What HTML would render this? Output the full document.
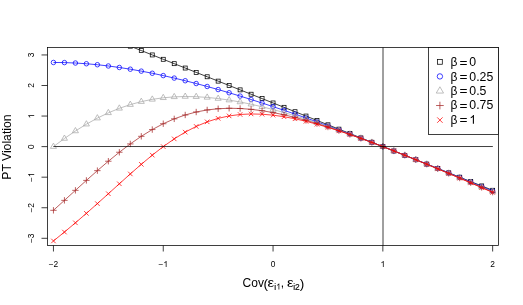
<!DOCTYPE html>
<html><head><meta charset="utf-8"><title>PT Violation</title>
<style>html,body{margin:0;padding:0;background:#fff}body{width:523px;height:305px;overflow:hidden;font-family:"Liberation Sans",sans-serif}</style>
</head><body>
<svg width="523" height="305" viewBox="0 0 523 305" style="display:block;will-change:transform;font-family:'Liberation Sans',sans-serif">
<rect width="523" height="305" fill="#fff"/>
<defs><clipPath id="c"><rect x="47.5" y="47.5" width="451.0" height="198.0"/></clipPath></defs>
<g clip-path="url(#c)">
<polyline fill="none" stroke="#000000" stroke-width="0.75" points="53.45,15.64 64.43,20.00 75.41,24.37 86.39,28.73 97.37,33.10 108.35,37.47 119.33,41.83 130.31,46.20 141.29,50.57 152.27,54.93 163.25,59.30 174.23,63.66 185.21,68.03 196.19,72.40 207.17,76.76 218.15,81.13 229.13,85.49 240.11,89.86 251.09,94.23 262.07,98.59 273.05,102.96 284.03,107.32 295.01,111.69 305.99,116.06 316.97,120.42 327.95,124.79 338.93,129.16 349.91,133.52 360.89,137.89 371.87,142.25 382.85,146.62 393.83,150.99 404.81,155.35 415.79,159.72 426.77,164.08 437.75,168.45 448.73,172.82 459.71,177.18 470.69,181.55 481.67,185.92 492.65,190.28"/>
<rect x="51.46" y="13.64" width="3.99" height="3.99" fill="none" stroke="#000000" stroke-width="0.75"/>
<rect x="62.44" y="18.01" width="3.99" height="3.99" fill="none" stroke="#000000" stroke-width="0.75"/>
<rect x="73.42" y="22.37" width="3.99" height="3.99" fill="none" stroke="#000000" stroke-width="0.75"/>
<rect x="84.40" y="26.74" width="3.99" height="3.99" fill="none" stroke="#000000" stroke-width="0.75"/>
<rect x="95.38" y="31.11" width="3.99" height="3.99" fill="none" stroke="#000000" stroke-width="0.75"/>
<rect x="106.36" y="35.47" width="3.99" height="3.99" fill="none" stroke="#000000" stroke-width="0.75"/>
<rect x="117.34" y="39.84" width="3.99" height="3.99" fill="none" stroke="#000000" stroke-width="0.75"/>
<rect x="128.32" y="44.20" width="3.99" height="3.99" fill="none" stroke="#000000" stroke-width="0.75"/>
<rect x="139.30" y="48.57" width="3.99" height="3.99" fill="none" stroke="#000000" stroke-width="0.75"/>
<rect x="150.28" y="52.94" width="3.99" height="3.99" fill="none" stroke="#000000" stroke-width="0.75"/>
<rect x="161.26" y="57.30" width="3.99" height="3.99" fill="none" stroke="#000000" stroke-width="0.75"/>
<rect x="172.24" y="61.67" width="3.99" height="3.99" fill="none" stroke="#000000" stroke-width="0.75"/>
<rect x="183.22" y="66.04" width="3.99" height="3.99" fill="none" stroke="#000000" stroke-width="0.75"/>
<rect x="194.20" y="70.40" width="3.99" height="3.99" fill="none" stroke="#000000" stroke-width="0.75"/>
<rect x="205.18" y="74.77" width="3.99" height="3.99" fill="none" stroke="#000000" stroke-width="0.75"/>
<rect x="216.16" y="79.13" width="3.99" height="3.99" fill="none" stroke="#000000" stroke-width="0.75"/>
<rect x="227.14" y="83.50" width="3.99" height="3.99" fill="none" stroke="#000000" stroke-width="0.75"/>
<rect x="238.12" y="87.87" width="3.99" height="3.99" fill="none" stroke="#000000" stroke-width="0.75"/>
<rect x="249.10" y="92.23" width="3.99" height="3.99" fill="none" stroke="#000000" stroke-width="0.75"/>
<rect x="260.08" y="96.60" width="3.99" height="3.99" fill="none" stroke="#000000" stroke-width="0.75"/>
<rect x="271.06" y="100.96" width="3.99" height="3.99" fill="none" stroke="#000000" stroke-width="0.75"/>
<rect x="282.04" y="105.33" width="3.99" height="3.99" fill="none" stroke="#000000" stroke-width="0.75"/>
<rect x="293.02" y="109.70" width="3.99" height="3.99" fill="none" stroke="#000000" stroke-width="0.75"/>
<rect x="304.00" y="114.06" width="3.99" height="3.99" fill="none" stroke="#000000" stroke-width="0.75"/>
<rect x="314.98" y="118.43" width="3.99" height="3.99" fill="none" stroke="#000000" stroke-width="0.75"/>
<rect x="325.96" y="122.80" width="3.99" height="3.99" fill="none" stroke="#000000" stroke-width="0.75"/>
<rect x="336.94" y="127.16" width="3.99" height="3.99" fill="none" stroke="#000000" stroke-width="0.75"/>
<rect x="347.92" y="131.53" width="3.99" height="3.99" fill="none" stroke="#000000" stroke-width="0.75"/>
<rect x="358.90" y="135.89" width="3.99" height="3.99" fill="none" stroke="#000000" stroke-width="0.75"/>
<rect x="369.88" y="140.26" width="3.99" height="3.99" fill="none" stroke="#000000" stroke-width="0.75"/>
<rect x="380.86" y="144.63" width="3.99" height="3.99" fill="none" stroke="#000000" stroke-width="0.75"/>
<rect x="391.84" y="148.99" width="3.99" height="3.99" fill="none" stroke="#000000" stroke-width="0.75"/>
<rect x="402.82" y="153.36" width="3.99" height="3.99" fill="none" stroke="#000000" stroke-width="0.75"/>
<rect x="413.80" y="157.72" width="3.99" height="3.99" fill="none" stroke="#000000" stroke-width="0.75"/>
<rect x="424.78" y="162.09" width="3.99" height="3.99" fill="none" stroke="#000000" stroke-width="0.75"/>
<rect x="435.76" y="166.46" width="3.99" height="3.99" fill="none" stroke="#000000" stroke-width="0.75"/>
<rect x="446.74" y="170.82" width="3.99" height="3.99" fill="none" stroke="#000000" stroke-width="0.75"/>
<rect x="457.72" y="175.19" width="3.99" height="3.99" fill="none" stroke="#000000" stroke-width="0.75"/>
<rect x="468.70" y="179.56" width="3.99" height="3.99" fill="none" stroke="#000000" stroke-width="0.75"/>
<rect x="479.68" y="183.92" width="3.99" height="3.99" fill="none" stroke="#000000" stroke-width="0.75"/>
<rect x="490.66" y="188.29" width="3.99" height="3.99" fill="none" stroke="#000000" stroke-width="0.75"/>
<polyline fill="none" stroke="#0000FF" stroke-width="0.75" points="53.45,62.48 64.43,62.59 75.41,63.02 86.39,63.74 97.37,64.73 108.35,65.98 119.33,67.48 130.31,69.20 141.29,71.13 152.27,73.26 163.25,75.58 174.23,78.08 185.21,80.73 196.19,83.54 207.17,86.48 218.15,89.56 229.13,92.76 240.11,96.08 251.09,99.50 262.07,103.01 273.05,106.63 284.03,110.32 295.01,114.10 305.99,117.95 316.97,121.87 327.95,125.86 338.93,129.90 349.91,134.01 360.89,138.16 371.87,142.37 382.85,146.62 393.83,150.91 404.81,155.25 415.79,159.62 426.77,164.03 437.75,168.47 448.73,172.94 459.71,177.44 470.69,181.97 481.67,186.52 492.65,191.10"/>
<circle cx="53.45" cy="62.48" r="2.25" fill="none" stroke="#0000FF" stroke-width="0.75"/>
<circle cx="64.43" cy="62.59" r="2.25" fill="none" stroke="#0000FF" stroke-width="0.75"/>
<circle cx="75.41" cy="63.02" r="2.25" fill="none" stroke="#0000FF" stroke-width="0.75"/>
<circle cx="86.39" cy="63.74" r="2.25" fill="none" stroke="#0000FF" stroke-width="0.75"/>
<circle cx="97.37" cy="64.73" r="2.25" fill="none" stroke="#0000FF" stroke-width="0.75"/>
<circle cx="108.35" cy="65.98" r="2.25" fill="none" stroke="#0000FF" stroke-width="0.75"/>
<circle cx="119.33" cy="67.48" r="2.25" fill="none" stroke="#0000FF" stroke-width="0.75"/>
<circle cx="130.31" cy="69.20" r="2.25" fill="none" stroke="#0000FF" stroke-width="0.75"/>
<circle cx="141.29" cy="71.13" r="2.25" fill="none" stroke="#0000FF" stroke-width="0.75"/>
<circle cx="152.27" cy="73.26" r="2.25" fill="none" stroke="#0000FF" stroke-width="0.75"/>
<circle cx="163.25" cy="75.58" r="2.25" fill="none" stroke="#0000FF" stroke-width="0.75"/>
<circle cx="174.23" cy="78.08" r="2.25" fill="none" stroke="#0000FF" stroke-width="0.75"/>
<circle cx="185.21" cy="80.73" r="2.25" fill="none" stroke="#0000FF" stroke-width="0.75"/>
<circle cx="196.19" cy="83.54" r="2.25" fill="none" stroke="#0000FF" stroke-width="0.75"/>
<circle cx="207.17" cy="86.48" r="2.25" fill="none" stroke="#0000FF" stroke-width="0.75"/>
<circle cx="218.15" cy="89.56" r="2.25" fill="none" stroke="#0000FF" stroke-width="0.75"/>
<circle cx="229.13" cy="92.76" r="2.25" fill="none" stroke="#0000FF" stroke-width="0.75"/>
<circle cx="240.11" cy="96.08" r="2.25" fill="none" stroke="#0000FF" stroke-width="0.75"/>
<circle cx="251.09" cy="99.50" r="2.25" fill="none" stroke="#0000FF" stroke-width="0.75"/>
<circle cx="262.07" cy="103.01" r="2.25" fill="none" stroke="#0000FF" stroke-width="0.75"/>
<circle cx="273.05" cy="106.63" r="2.25" fill="none" stroke="#0000FF" stroke-width="0.75"/>
<circle cx="284.03" cy="110.32" r="2.25" fill="none" stroke="#0000FF" stroke-width="0.75"/>
<circle cx="295.01" cy="114.10" r="2.25" fill="none" stroke="#0000FF" stroke-width="0.75"/>
<circle cx="305.99" cy="117.95" r="2.25" fill="none" stroke="#0000FF" stroke-width="0.75"/>
<circle cx="316.97" cy="121.87" r="2.25" fill="none" stroke="#0000FF" stroke-width="0.75"/>
<circle cx="327.95" cy="125.86" r="2.25" fill="none" stroke="#0000FF" stroke-width="0.75"/>
<circle cx="338.93" cy="129.90" r="2.25" fill="none" stroke="#0000FF" stroke-width="0.75"/>
<circle cx="349.91" cy="134.01" r="2.25" fill="none" stroke="#0000FF" stroke-width="0.75"/>
<circle cx="360.89" cy="138.16" r="2.25" fill="none" stroke="#0000FF" stroke-width="0.75"/>
<circle cx="371.87" cy="142.37" r="2.25" fill="none" stroke="#0000FF" stroke-width="0.75"/>
<circle cx="382.85" cy="146.62" r="2.25" fill="none" stroke="#0000FF" stroke-width="0.75"/>
<circle cx="393.83" cy="150.91" r="2.25" fill="none" stroke="#0000FF" stroke-width="0.75"/>
<circle cx="404.81" cy="155.25" r="2.25" fill="none" stroke="#0000FF" stroke-width="0.75"/>
<circle cx="415.79" cy="159.62" r="2.25" fill="none" stroke="#0000FF" stroke-width="0.75"/>
<circle cx="426.77" cy="164.03" r="2.25" fill="none" stroke="#0000FF" stroke-width="0.75"/>
<circle cx="437.75" cy="168.47" r="2.25" fill="none" stroke="#0000FF" stroke-width="0.75"/>
<circle cx="448.73" cy="172.94" r="2.25" fill="none" stroke="#0000FF" stroke-width="0.75"/>
<circle cx="459.71" cy="177.44" r="2.25" fill="none" stroke="#0000FF" stroke-width="0.75"/>
<circle cx="470.69" cy="181.97" r="2.25" fill="none" stroke="#0000FF" stroke-width="0.75"/>
<circle cx="481.67" cy="186.52" r="2.25" fill="none" stroke="#0000FF" stroke-width="0.75"/>
<circle cx="492.65" cy="191.10" r="2.25" fill="none" stroke="#0000FF" stroke-width="0.75"/>
<polyline fill="none" stroke="#A9A9A9" stroke-width="0.75" points="53.45,146.62 64.43,138.49 75.41,130.99 86.39,124.20 97.37,118.14 108.35,112.85 119.33,108.34 130.31,104.61 141.29,101.63 152.27,99.37 163.25,97.79 174.23,96.85 185.21,96.51 196.19,96.71 207.17,97.40 218.15,98.54 229.13,100.08 240.11,101.99 251.09,104.22 262.07,106.75 273.05,109.53 284.03,112.54 295.01,115.75 305.99,119.15 316.97,122.71 327.95,126.42 338.93,130.25 349.91,134.20 360.89,138.25 371.87,142.40 382.85,146.62 393.83,150.92 404.81,155.28 415.79,159.70 426.77,164.17 437.75,168.69 448.73,173.25 459.71,177.85 470.69,182.48 481.67,187.15 492.65,191.84"/>
<path d="M53.45 143.12L56.48 148.37L50.42 148.37Z" fill="none" stroke="#A9A9A9" stroke-width="0.75"/>
<path d="M64.43 134.99L67.46 140.24L61.40 140.24Z" fill="none" stroke="#A9A9A9" stroke-width="0.75"/>
<path d="M75.41 127.49L78.44 132.74L72.38 132.74Z" fill="none" stroke="#A9A9A9" stroke-width="0.75"/>
<path d="M86.39 120.70L89.42 125.94L83.36 125.94Z" fill="none" stroke="#A9A9A9" stroke-width="0.75"/>
<path d="M97.37 114.64L100.40 119.89L94.34 119.89Z" fill="none" stroke="#A9A9A9" stroke-width="0.75"/>
<path d="M108.35 109.35L111.38 114.60L105.32 114.60Z" fill="none" stroke="#A9A9A9" stroke-width="0.75"/>
<path d="M119.33 104.84L122.36 110.09L116.30 110.09Z" fill="none" stroke="#A9A9A9" stroke-width="0.75"/>
<path d="M130.31 101.11L133.34 106.36L127.28 106.36Z" fill="none" stroke="#A9A9A9" stroke-width="0.75"/>
<path d="M141.29 98.13L144.32 103.38L138.26 103.38Z" fill="none" stroke="#A9A9A9" stroke-width="0.75"/>
<path d="M152.27 95.87L155.30 101.12L149.24 101.12Z" fill="none" stroke="#A9A9A9" stroke-width="0.75"/>
<path d="M163.25 94.29L166.28 99.54L160.22 99.54Z" fill="none" stroke="#A9A9A9" stroke-width="0.75"/>
<path d="M174.23 93.36L177.26 98.60L171.20 98.60Z" fill="none" stroke="#A9A9A9" stroke-width="0.75"/>
<path d="M185.21 93.01L188.24 98.26L182.18 98.26Z" fill="none" stroke="#A9A9A9" stroke-width="0.75"/>
<path d="M196.19 93.21L199.22 98.46L193.16 98.46Z" fill="none" stroke="#A9A9A9" stroke-width="0.75"/>
<path d="M207.17 93.90L210.20 99.15L204.14 99.15Z" fill="none" stroke="#A9A9A9" stroke-width="0.75"/>
<path d="M218.15 95.04L221.18 100.29L215.12 100.29Z" fill="none" stroke="#A9A9A9" stroke-width="0.75"/>
<path d="M229.13 96.59L232.16 101.83L226.10 101.83Z" fill="none" stroke="#A9A9A9" stroke-width="0.75"/>
<path d="M240.11 98.49L243.14 103.74L237.08 103.74Z" fill="none" stroke="#A9A9A9" stroke-width="0.75"/>
<path d="M251.09 100.72L254.12 105.97L248.06 105.97Z" fill="none" stroke="#A9A9A9" stroke-width="0.75"/>
<path d="M262.07 103.25L265.10 108.50L259.04 108.50Z" fill="none" stroke="#A9A9A9" stroke-width="0.75"/>
<path d="M273.05 106.03L276.08 111.28L270.02 111.28Z" fill="none" stroke="#A9A9A9" stroke-width="0.75"/>
<path d="M284.03 109.04L287.06 114.29L281.00 114.29Z" fill="none" stroke="#A9A9A9" stroke-width="0.75"/>
<path d="M295.01 112.26L298.04 117.50L291.98 117.50Z" fill="none" stroke="#A9A9A9" stroke-width="0.75"/>
<path d="M305.99 115.65L309.02 120.90L302.96 120.90Z" fill="none" stroke="#A9A9A9" stroke-width="0.75"/>
<path d="M316.97 119.22L320.00 124.46L313.94 124.46Z" fill="none" stroke="#A9A9A9" stroke-width="0.75"/>
<path d="M327.95 122.92L330.98 128.17L324.92 128.17Z" fill="none" stroke="#A9A9A9" stroke-width="0.75"/>
<path d="M338.93 126.76L341.96 132.00L335.90 132.00Z" fill="none" stroke="#A9A9A9" stroke-width="0.75"/>
<path d="M349.91 130.70L352.94 135.95L346.88 135.95Z" fill="none" stroke="#A9A9A9" stroke-width="0.75"/>
<path d="M360.89 134.76L363.92 140.00L357.86 140.00Z" fill="none" stroke="#A9A9A9" stroke-width="0.75"/>
<path d="M371.87 138.90L374.90 144.15L368.84 144.15Z" fill="none" stroke="#A9A9A9" stroke-width="0.75"/>
<path d="M382.85 143.12L385.88 148.37L379.82 148.37Z" fill="none" stroke="#A9A9A9" stroke-width="0.75"/>
<path d="M393.83 147.42L396.86 152.67L390.80 152.67Z" fill="none" stroke="#A9A9A9" stroke-width="0.75"/>
<path d="M404.81 151.78L407.84 157.03L401.78 157.03Z" fill="none" stroke="#A9A9A9" stroke-width="0.75"/>
<path d="M415.79 156.20L418.82 161.45L412.76 161.45Z" fill="none" stroke="#A9A9A9" stroke-width="0.75"/>
<path d="M426.77 160.67L429.80 165.92L423.74 165.92Z" fill="none" stroke="#A9A9A9" stroke-width="0.75"/>
<path d="M437.75 165.19L440.78 170.44L434.72 170.44Z" fill="none" stroke="#A9A9A9" stroke-width="0.75"/>
<path d="M448.73 169.75L451.76 175.00L445.70 175.00Z" fill="none" stroke="#A9A9A9" stroke-width="0.75"/>
<path d="M459.71 174.35L462.74 179.60L456.68 179.60Z" fill="none" stroke="#A9A9A9" stroke-width="0.75"/>
<path d="M470.69 178.98L473.72 184.23L467.66 184.23Z" fill="none" stroke="#A9A9A9" stroke-width="0.75"/>
<path d="M481.67 183.65L484.70 188.90L478.64 188.90Z" fill="none" stroke="#A9A9A9" stroke-width="0.75"/>
<path d="M492.65 188.34L495.68 193.59L489.62 193.59Z" fill="none" stroke="#A9A9A9" stroke-width="0.75"/>
<polyline fill="none" stroke="#A52A2A" stroke-width="0.75" points="53.45,210.32 64.43,200.36 75.41,190.35 86.39,180.40 97.37,170.65 108.35,161.22 119.33,152.26 130.31,143.92 141.29,136.32 152.27,129.57 163.25,123.74 174.23,118.87 185.21,114.97 196.19,112.01 207.17,109.95 218.15,108.73 229.13,108.27 240.11,108.49 251.09,109.33 262.07,110.71 273.05,112.56 284.03,114.82 295.01,117.44 305.99,120.37 316.97,123.57 327.95,126.99 338.93,130.62 349.91,134.42 360.89,138.36 371.87,142.43 382.85,146.62 393.83,150.90 404.81,155.27 415.79,159.70 426.77,164.21 437.75,168.76 448.73,173.37 459.71,178.01 470.69,182.70 481.67,187.42 492.65,192.16"/>
<path d="M50.27 210.32H56.63M53.45 207.14V213.50" fill="none" stroke="#A52A2A" stroke-width="0.75"/>
<path d="M61.25 200.36H67.61M64.43 197.17V203.54" fill="none" stroke="#A52A2A" stroke-width="0.75"/>
<path d="M72.23 190.35H78.59M75.41 187.17V193.53" fill="none" stroke="#A52A2A" stroke-width="0.75"/>
<path d="M83.21 180.40H89.57M86.39 177.22V183.59" fill="none" stroke="#A52A2A" stroke-width="0.75"/>
<path d="M94.19 170.65H100.55M97.37 167.46V173.83" fill="none" stroke="#A52A2A" stroke-width="0.75"/>
<path d="M105.17 161.22H111.53M108.35 158.03V164.40" fill="none" stroke="#A52A2A" stroke-width="0.75"/>
<path d="M116.15 152.26H122.51M119.33 149.08V155.44" fill="none" stroke="#A52A2A" stroke-width="0.75"/>
<path d="M127.13 143.92H133.49M130.31 140.73V147.10" fill="none" stroke="#A52A2A" stroke-width="0.75"/>
<path d="M138.11 136.32H144.47M141.29 133.14V139.50" fill="none" stroke="#A52A2A" stroke-width="0.75"/>
<path d="M149.09 129.57H155.45M152.27 126.39V132.75" fill="none" stroke="#A52A2A" stroke-width="0.75"/>
<path d="M160.07 123.74H166.43M163.25 120.56V126.92" fill="none" stroke="#A52A2A" stroke-width="0.75"/>
<path d="M171.05 118.87H177.41M174.23 115.69V122.06" fill="none" stroke="#A52A2A" stroke-width="0.75"/>
<path d="M182.03 114.97H188.39M185.21 111.79V118.15" fill="none" stroke="#A52A2A" stroke-width="0.75"/>
<path d="M193.01 112.01H199.37M196.19 108.83V115.20" fill="none" stroke="#A52A2A" stroke-width="0.75"/>
<path d="M203.99 109.95H210.35M207.17 106.77V113.14" fill="none" stroke="#A52A2A" stroke-width="0.75"/>
<path d="M214.97 108.73H221.33M218.15 105.55V111.91" fill="none" stroke="#A52A2A" stroke-width="0.75"/>
<path d="M225.95 108.27H232.31M229.13 105.08V111.45" fill="none" stroke="#A52A2A" stroke-width="0.75"/>
<path d="M236.93 108.49H243.29M240.11 105.31V111.67" fill="none" stroke="#A52A2A" stroke-width="0.75"/>
<path d="M247.91 109.33H254.27M251.09 106.15V112.51" fill="none" stroke="#A52A2A" stroke-width="0.75"/>
<path d="M258.89 110.71H265.25M262.07 107.52V113.89" fill="none" stroke="#A52A2A" stroke-width="0.75"/>
<path d="M269.87 112.56H276.23M273.05 109.38V115.74" fill="none" stroke="#A52A2A" stroke-width="0.75"/>
<path d="M280.85 114.82H287.21M284.03 111.64V118.00" fill="none" stroke="#A52A2A" stroke-width="0.75"/>
<path d="M291.83 117.44H298.19M295.01 114.26V120.62" fill="none" stroke="#A52A2A" stroke-width="0.75"/>
<path d="M302.81 120.37H309.17M305.99 117.19V123.55" fill="none" stroke="#A52A2A" stroke-width="0.75"/>
<path d="M313.79 123.57H320.15M316.97 120.38V126.75" fill="none" stroke="#A52A2A" stroke-width="0.75"/>
<path d="M324.77 126.99H331.13M327.95 123.81V130.17" fill="none" stroke="#A52A2A" stroke-width="0.75"/>
<path d="M335.75 130.62H342.11M338.93 127.44V133.80" fill="none" stroke="#A52A2A" stroke-width="0.75"/>
<path d="M346.73 134.42H353.09M349.91 131.23V137.60" fill="none" stroke="#A52A2A" stroke-width="0.75"/>
<path d="M357.71 138.36H364.07M360.89 135.18V141.54" fill="none" stroke="#A52A2A" stroke-width="0.75"/>
<path d="M368.69 142.43H375.05M371.87 139.25V145.62" fill="none" stroke="#A52A2A" stroke-width="0.75"/>
<path d="M379.67 146.62H386.03M382.85 143.44V149.80" fill="none" stroke="#A52A2A" stroke-width="0.75"/>
<path d="M390.65 150.90H397.01M393.83 147.72V154.08" fill="none" stroke="#A52A2A" stroke-width="0.75"/>
<path d="M401.63 155.27H407.99M404.81 152.08V158.45" fill="none" stroke="#A52A2A" stroke-width="0.75"/>
<path d="M412.61 159.70H418.97M415.79 156.52V162.89" fill="none" stroke="#A52A2A" stroke-width="0.75"/>
<path d="M423.59 164.21H429.95M426.77 161.02V167.39" fill="none" stroke="#A52A2A" stroke-width="0.75"/>
<path d="M434.57 168.76H440.93M437.75 165.58V171.94" fill="none" stroke="#A52A2A" stroke-width="0.75"/>
<path d="M445.55 173.37H451.91M448.73 170.18V176.55" fill="none" stroke="#A52A2A" stroke-width="0.75"/>
<path d="M456.53 178.01H462.89M459.71 174.83V181.20" fill="none" stroke="#A52A2A" stroke-width="0.75"/>
<path d="M467.51 182.70H473.87M470.69 179.52V185.88" fill="none" stroke="#A52A2A" stroke-width="0.75"/>
<path d="M478.49 187.42H484.85M481.67 184.23V190.60" fill="none" stroke="#A52A2A" stroke-width="0.75"/>
<path d="M489.47 192.16H495.83M492.65 188.98V195.34" fill="none" stroke="#A52A2A" stroke-width="0.75"/>
<polyline fill="none" stroke="#FF0000" stroke-width="0.75" points="53.45,240.96 64.43,232.05 75.41,222.84 86.39,213.35 97.37,203.62 108.35,193.74 119.33,183.79 130.31,173.93 141.29,164.32 152.27,155.15 163.25,146.62 174.23,138.90 185.21,132.14 196.19,126.43 207.17,121.84 218.15,118.35 229.13,115.93 240.11,114.49 251.09,113.95 262.07,114.22 273.05,115.17 284.03,116.73 295.01,118.81 305.99,121.32 316.97,124.21 327.95,127.41 338.93,130.87 349.91,134.55 360.89,138.42 371.87,142.45 382.85,146.62 393.83,150.90 404.81,155.27 415.79,159.73 426.77,164.26 437.75,168.85 448.73,173.49 459.71,178.17 470.69,182.89 481.67,187.64 492.65,192.42"/>
<path d="M51.20 238.71L55.70 243.21M51.20 243.21L55.70 238.71" fill="none" stroke="#FF0000" stroke-width="0.75"/>
<path d="M62.18 229.80L66.68 234.30M62.18 234.30L66.68 229.80" fill="none" stroke="#FF0000" stroke-width="0.75"/>
<path d="M73.16 220.59L77.66 225.09M73.16 225.09L77.66 220.59" fill="none" stroke="#FF0000" stroke-width="0.75"/>
<path d="M84.14 211.10L88.64 215.60M84.14 215.60L88.64 211.10" fill="none" stroke="#FF0000" stroke-width="0.75"/>
<path d="M95.12 201.37L99.62 205.87M95.12 205.87L99.62 201.37" fill="none" stroke="#FF0000" stroke-width="0.75"/>
<path d="M106.10 191.49L110.60 195.99M106.10 195.99L110.60 191.49" fill="none" stroke="#FF0000" stroke-width="0.75"/>
<path d="M117.08 181.54L121.58 186.04M117.08 186.04L121.58 181.54" fill="none" stroke="#FF0000" stroke-width="0.75"/>
<path d="M128.06 171.68L132.56 176.18M128.06 176.18L132.56 171.68" fill="none" stroke="#FF0000" stroke-width="0.75"/>
<path d="M139.04 162.07L143.54 166.57M139.04 166.57L143.54 162.07" fill="none" stroke="#FF0000" stroke-width="0.75"/>
<path d="M150.02 152.90L154.52 157.40M150.02 157.40L154.52 152.90" fill="none" stroke="#FF0000" stroke-width="0.75"/>
<path d="M161.00 144.37L165.50 148.87M161.00 148.87L165.50 144.37" fill="none" stroke="#FF0000" stroke-width="0.75"/>
<path d="M171.98 136.65L176.48 141.15M171.98 141.15L176.48 136.65" fill="none" stroke="#FF0000" stroke-width="0.75"/>
<path d="M182.96 129.89L187.46 134.39M182.96 134.39L187.46 129.89" fill="none" stroke="#FF0000" stroke-width="0.75"/>
<path d="M193.94 124.18L198.44 128.68M193.94 128.68L198.44 124.18" fill="none" stroke="#FF0000" stroke-width="0.75"/>
<path d="M204.92 119.59L209.42 124.09M204.92 124.09L209.42 119.59" fill="none" stroke="#FF0000" stroke-width="0.75"/>
<path d="M215.90 116.10L220.40 120.60M215.90 120.60L220.40 116.10" fill="none" stroke="#FF0000" stroke-width="0.75"/>
<path d="M226.88 113.68L231.38 118.18M226.88 118.18L231.38 113.68" fill="none" stroke="#FF0000" stroke-width="0.75"/>
<path d="M237.86 112.24L242.36 116.74M237.86 116.74L242.36 112.24" fill="none" stroke="#FF0000" stroke-width="0.75"/>
<path d="M248.84 111.70L253.34 116.20M248.84 116.20L253.34 111.70" fill="none" stroke="#FF0000" stroke-width="0.75"/>
<path d="M259.82 111.97L264.32 116.47M259.82 116.47L264.32 111.97" fill="none" stroke="#FF0000" stroke-width="0.75"/>
<path d="M270.80 112.92L275.30 117.42M270.80 117.42L275.30 112.92" fill="none" stroke="#FF0000" stroke-width="0.75"/>
<path d="M281.78 114.48L286.28 118.98M281.78 118.98L286.28 114.48" fill="none" stroke="#FF0000" stroke-width="0.75"/>
<path d="M292.76 116.56L297.26 121.06M292.76 121.06L297.26 116.56" fill="none" stroke="#FF0000" stroke-width="0.75"/>
<path d="M303.74 119.07L308.24 123.57M303.74 123.57L308.24 119.07" fill="none" stroke="#FF0000" stroke-width="0.75"/>
<path d="M314.72 121.96L319.22 126.46M314.72 126.46L319.22 121.96" fill="none" stroke="#FF0000" stroke-width="0.75"/>
<path d="M325.70 125.16L330.20 129.66M325.70 129.66L330.20 125.16" fill="none" stroke="#FF0000" stroke-width="0.75"/>
<path d="M336.68 128.62L341.18 133.12M336.68 133.12L341.18 128.62" fill="none" stroke="#FF0000" stroke-width="0.75"/>
<path d="M347.66 132.30L352.16 136.80M347.66 136.80L352.16 132.30" fill="none" stroke="#FF0000" stroke-width="0.75"/>
<path d="M358.64 136.17L363.14 140.67M358.64 140.67L363.14 136.17" fill="none" stroke="#FF0000" stroke-width="0.75"/>
<path d="M369.62 140.20L374.12 144.70M369.62 144.70L374.12 140.20" fill="none" stroke="#FF0000" stroke-width="0.75"/>
<path d="M380.60 144.37L385.10 148.87M380.60 148.87L385.10 144.37" fill="none" stroke="#FF0000" stroke-width="0.75"/>
<path d="M391.58 148.65L396.08 153.15M391.58 153.15L396.08 148.65" fill="none" stroke="#FF0000" stroke-width="0.75"/>
<path d="M402.56 153.02L407.06 157.52M402.56 157.52L407.06 153.02" fill="none" stroke="#FF0000" stroke-width="0.75"/>
<path d="M413.54 157.48L418.04 161.98M413.54 161.98L418.04 157.48" fill="none" stroke="#FF0000" stroke-width="0.75"/>
<path d="M424.52 162.01L429.02 166.51M424.52 166.51L429.02 162.01" fill="none" stroke="#FF0000" stroke-width="0.75"/>
<path d="M435.50 166.60L440.00 171.10M435.50 171.10L440.00 166.60" fill="none" stroke="#FF0000" stroke-width="0.75"/>
<path d="M446.48 171.24L450.98 175.74M446.48 175.74L450.98 171.24" fill="none" stroke="#FF0000" stroke-width="0.75"/>
<path d="M457.46 175.92L461.96 180.42M457.46 180.42L461.96 175.92" fill="none" stroke="#FF0000" stroke-width="0.75"/>
<path d="M468.44 180.64L472.94 185.14M468.44 185.14L472.94 180.64" fill="none" stroke="#FF0000" stroke-width="0.75"/>
<path d="M479.42 185.39L483.92 189.89M479.42 189.89L483.92 185.39" fill="none" stroke="#FF0000" stroke-width="0.75"/>
<path d="M490.40 190.17L494.90 194.67M490.40 194.67L494.90 190.17" fill="none" stroke="#FF0000" stroke-width="0.75"/>
</g>
<path d="M53.45 146.52H492.85" stroke="#000" stroke-width="0.75" fill="none"/>
<path d="M383.00 47.5V245.5" stroke="#000" stroke-width="0.75" fill="none"/>
<rect x="47.5" y="47.5" width="451.0" height="198.0" fill="none" stroke="#000" stroke-width="0.75"/>
<path d="M53.45 245.5V251.5" stroke="#000" stroke-width="0.75"/>
<text x="48.66" y="267.00" font-size="8.4" fill="#000">−</text><text x="53.57" y="267.00" font-size="8.4" fill="#000">2</text>
<path d="M163.25 245.5V251.5" stroke="#000" stroke-width="0.75"/>
<text x="158.46" y="267.00" font-size="8.4" fill="#000">−</text><path transform="translate(163.37 267.00) scale(0.00410 -0.00410)" d="M583 0H763V1466H647Q540 1240 223 1100V930Q440 1010 583 1147Z" fill="#000"/>
<path d="M273.05 245.5V251.5" stroke="#000" stroke-width="0.75"/>
<text x="270.71" y="267.00" font-size="8.4" fill="#000">0</text>
<path d="M382.85 245.5V251.5" stroke="#000" stroke-width="0.75"/>
<path transform="translate(380.51 267.00) scale(0.00410 -0.00410)" d="M583 0H763V1466H647Q540 1240 223 1100V930Q440 1010 583 1147Z" fill="#000"/>
<path d="M492.65 245.5V251.5" stroke="#000" stroke-width="0.75"/>
<text x="490.31" y="267.00" font-size="8.4" fill="#000">2</text>
<path d="M47.5 238.30H41.5" stroke="#000" stroke-width="0.75"/>
<g transform="translate(34.2 238.30) rotate(-90)"><text x="-4.79" y="0.00" font-size="8.4" fill="#000">−</text><text x="0.12" y="0.00" font-size="8.4" fill="#000">3</text></g>
<path d="M47.5 207.74H41.5" stroke="#000" stroke-width="0.75"/>
<g transform="translate(34.2 207.74) rotate(-90)"><text x="-4.79" y="0.00" font-size="8.4" fill="#000">−</text><text x="0.12" y="0.00" font-size="8.4" fill="#000">2</text></g>
<path d="M47.5 177.18H41.5" stroke="#000" stroke-width="0.75"/>
<g transform="translate(34.2 177.18) rotate(-90)"><text x="-4.79" y="0.00" font-size="8.4" fill="#000">−</text><path transform="translate(0.12 0.00) scale(0.00410 -0.00410)" d="M583 0H763V1466H647Q540 1240 223 1100V930Q440 1010 583 1147Z" fill="#000"/></g>
<path d="M47.5 146.62H41.5" stroke="#000" stroke-width="0.75"/>
<g transform="translate(34.2 146.62) rotate(-90)"><text x="-2.34" y="0.00" font-size="8.4" fill="#000">0</text></g>
<path d="M47.5 116.06H41.5" stroke="#000" stroke-width="0.75"/>
<g transform="translate(34.2 116.06) rotate(-90)"><path transform="translate(-2.34 0.00) scale(0.00410 -0.00410)" d="M583 0H763V1466H647Q540 1240 223 1100V930Q440 1010 583 1147Z" fill="#000"/></g>
<path d="M47.5 85.50H41.5" stroke="#000" stroke-width="0.75"/>
<g transform="translate(34.2 85.50) rotate(-90)"><text x="-2.34" y="0.00" font-size="8.4" fill="#000">2</text></g>
<path d="M47.5 54.94H41.5" stroke="#000" stroke-width="0.75"/>
<g transform="translate(34.2 54.94) rotate(-90)"><text x="-2.34" y="0.00" font-size="8.4" fill="#000">3</text></g>
<text transform="translate(10.8 147.1) rotate(-90)" font-size="12.2" text-anchor="middle" fill="#000">PT Violation</text>
<text transform="translate(242.6 287.1) scale(1.0 1)" font-size="12" fill="#000">Cov</text>
<text transform="translate(263.6 287.5) scale(1.0 1)" font-size="13.6" fill="#000">(</text>
<text transform="translate(267.5 287.1) scale(1.24 1)" font-size="12" fill="#000">ε</text>
<text transform="translate(274.3 289.5) scale(1.0 1)" font-size="8.4" fill="#000" stroke="#000" stroke-width="0.15">i</text>
<path transform="translate(276.16 289.50) scale(0.00410 -0.00410)" d="M583 0H763V1466H647Q540 1240 223 1100V930Q440 1010 583 1147Z" fill="#000"/>
<text transform="translate(280.8 287.1) scale(1.0 1)" font-size="12" fill="#000">,</text>
<text transform="translate(286.9 287.1) scale(1.24 1)" font-size="12" fill="#000">ε</text>
<text transform="translate(293.2 289.5) scale(1.0 1)" font-size="8.4" fill="#000" stroke="#000" stroke-width="0.15">i2</text>
<text transform="translate(299.7 287.5) scale(1.0 1)" font-size="13.6" fill="#000">)</text>
<rect x="428.4" y="47.5" width="70.10000000000002" height="86.9" fill="#fff" stroke="#000" stroke-width="0.75"/>
<rect x="437.51" y="59.46" width="4.79" height="4.79" fill="none" stroke="#000000" stroke-width="0.75"/>
<text transform="translate(450.4 66.20) scale(1.0 1)" font-size="12" fill="#000">β</text>
<text transform="translate(459.4 66.70) scale(1.14 1)" font-size="12" fill="#000">=</text>
<text transform="translate(469.35 66.20) scale(1.025 1)" font-size="12" fill="#000">0</text>
<circle cx="439.90" cy="76.41" r="2.70" fill="none" stroke="#0000FF" stroke-width="0.75"/>
<text transform="translate(450.4 80.56) scale(1.0 1)" font-size="12" fill="#000">β</text>
<text transform="translate(459.4 81.06) scale(1.14 1)" font-size="12" fill="#000">=</text>
<text transform="translate(469.35 80.56) scale(1.025 1)" font-size="12" fill="#000">0.25</text>
<path d="M439.90 86.77L443.54 93.07L436.26 93.07Z" fill="none" stroke="#A9A9A9" stroke-width="0.75"/>
<text transform="translate(450.4 94.92) scale(1.0 1)" font-size="12" fill="#000">β</text>
<text transform="translate(459.4 95.42) scale(1.14 1)" font-size="12" fill="#000">=</text>
<text transform="translate(469.35 94.92) scale(1.025 1)" font-size="12" fill="#000">0.5</text>
<path d="M436.08 105.53H443.72M439.90 101.71V109.35" fill="none" stroke="#A52A2A" stroke-width="0.75"/>
<text transform="translate(450.4 109.28) scale(1.0 1)" font-size="12" fill="#000">β</text>
<text transform="translate(459.4 109.78) scale(1.14 1)" font-size="12" fill="#000">=</text>
<text transform="translate(469.35 109.28) scale(1.025 1)" font-size="12" fill="#000">0.75</text>
<path d="M437.20 117.39L442.60 122.79M437.20 122.79L442.60 117.39" fill="none" stroke="#FF0000" stroke-width="0.75"/>
<text transform="translate(450.4 123.64) scale(1.0 1)" font-size="12" fill="#000">β</text>
<text transform="translate(459.4 124.14) scale(1.14 1)" font-size="12" fill="#000">=</text>
<path transform="translate(469.35 123.64) scale(0.00601 -0.00586)" d="M583 0H763V1466H647Q540 1240 223 1100V930Q440 1010 583 1147Z" fill="#000"/>
</svg>
</body></html>
